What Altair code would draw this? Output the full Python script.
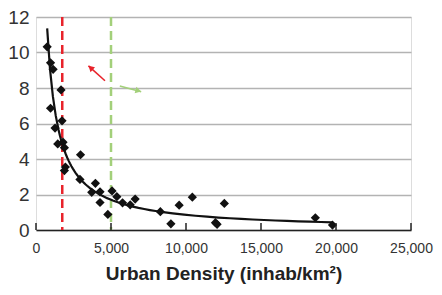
import altair as alt
import pandas as pd

# scatter data (urban density, value)
density = [745, 970, 1141, 1669, 970, 1735, 1270, 1450, 1801, 1893, 2970, 1959, 1893,
           2930, 3960, 3716, 4268, 4268, 4790, 5070, 5390, 5770, 6280, 6610, 8290,
           8993, 9543, 10422, 11961, 12072, 12556, 18622, 19766]
value = [10.32, 9.42, 9.05, 7.89, 6.86, 6.15, 5.74, 4.85, 4.95, 4.64, 4.24, 3.55, 3.35,
         2.85, 2.63, 2.12, 2.15, 1.55, 0.88, 2.2, 1.88, 1.53, 1.42, 1.74, 1.03,
         0.35, 1.40, 1.85, 0.41, 0.32, 1.50, 0.69, 0.28]

x_ticks = [0, 5000, 10000, 15000, 20000, 25000]
y_ticks = [0, 2, 4, 6, 8, 10, 12]

ref_x = [1750, 5000]
ref_color = ["#e8232b", "#a3d07a"]

# annotation arrows
arrow_id = ["red", "red", "green", "green"]
arrow_x = [4598, 3496, 5587, 7012]
arrow_y = [8.41, 9.25, 8.11, 7.79]
head_x = [3641, 6821]
head_y = [9.14, 7.84]
head_angle = [312, 105]
head_color = ["#e8232b", "#a3d07a"]

W, H = 375, 213

df = pd.DataFrame({"x": density, "y": value})
xs = alt.Scale(domain=[0, 25000], nice=False)
ys = alt.Scale(domain=[0, 12], nice=False)

xaxis = alt.Axis(values=x_ticks, format=",d", title="Urban Density (inhab/km²)")
yaxis = alt.Axis(values=y_ticks, title=None)


def X():
    return alt.X("x:Q", scale=xs, axis=xaxis)


def Y():
    return alt.Y("y:Q", scale=ys, axis=yaxis)


base = alt.Chart(df)

refs = alt.Chart(pd.DataFrame({"x": ref_x, "c": ref_color})).mark_rule(
    strokeWidth=2.5, strokeDash=[9, 5]).encode(
    x=X(), color=alt.Color("c:N", scale=None))

pts = base.mark_point(shape="diamond", filled=True, size=85, color="#111", opacity=1).encode(
    x=X(), y=Y())

fit = base.transform_regression("x", "y", method="pow").mark_line(
    color="#111", strokeWidth=2.2).encode(x=X(), y=Y())

ticks = alt.Chart(pd.DataFrame({"x": x_ticks})).mark_rule(color="#222", strokeWidth=1.5).encode(
    x=X(), y=alt.value(H), y2=alt.value(H - 7))

adf = pd.DataFrame({"id": arrow_id, "x": arrow_x, "y": arrow_y})
shafts = alt.Chart(adf).mark_line(strokeWidth=1.6).encode(
    x=X(), y=Y(), detail="id:N",
    color=alt.Color("id:N", scale=alt.Scale(domain=["red", "green"], range=["#e8232b", "#a3d07a"]), legend=None))

hdf = pd.DataFrame({"x": head_x, "y": head_y, "a": head_angle, "c": head_color})
heads = alt.Chart(hdf).mark_point(shape="triangle-up", filled=True, size=45, opacity=1).encode(
    x=X(), y=Y(),
    angle=alt.Angle("a:Q", scale=None), color=alt.Color("c:N", scale=None))

chart = alt.layer(refs, pts, fit, ticks, shafts, heads).properties(
    width=W, height=H, autosize=alt.AutoSizeParams(type="none"),
    padding={"left": 28, "top": 9, "right": 23, "bottom": 57}
).configure_view(stroke=None).configure(background="white").configure_axisX(
    labelFont="Liberation Sans", labelFontSize=14, labelColor="#333",
    labelPadding=11, ticks=False, grid=False, domainColor="#222",
    domainWidth=1.5, titleFont="Liberation Sans", titleFontSize=19,
    titleFontWeight="bold", titleColor="#222", titlePadding=9, labelOverlap=False,
    labelFlush=False
).configure_axisY(
    labelFont="Liberation Sans", labelFontSize=19, labelColor="#333", labelPadding=7,
    ticks=False, domain=False, grid=True, gridColor="#b3b3b3", gridWidth=1.6,
    labelOverlap=False
)

chart.save("out.html", embed_options={"renderer": "svg", "actions": False})
